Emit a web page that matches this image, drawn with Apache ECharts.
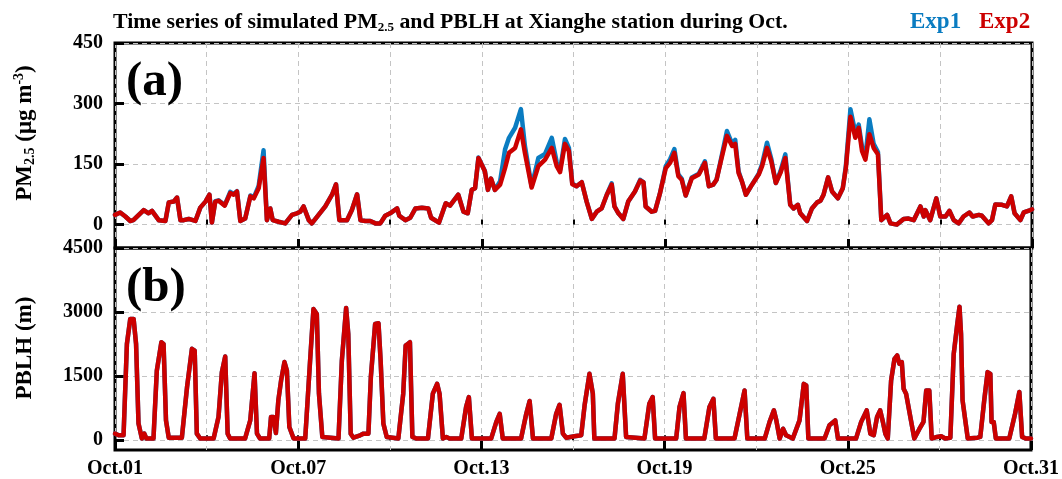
<!DOCTYPE html>
<html>
<head>
<meta charset="utf-8">
<script src="https://cdn.jsdelivr.net/npm/echarts@6/dist/echarts.min.js"></script>
<style>
  html, body { margin: 0; padding: 0; background: #fff; }
  #chart { width: 1062px; height: 479px; }
</style>
</head>
<body>
<div id="chart"></div>
<script>
// ---- PM2.5 (ug m-3): time in days since Oct.01 00:00 ----
const pmDays = [
  0, 0.17, 0.34, 0.5, 0.6, 0.94, 1.1, 1.21, 1.43, 1.65, 1.76, 1.92, 2.03, 2.14, 2.25, 2.41, 2.63, 2.79, 2.96, 3.09,
  3.17, 3.28, 3.39, 3.59, 3.77, 3.88, 3.99, 4.1, 4.26, 4.43, 4.54, 4.7, 4.86, 4.97, 5.08, 5.16, 5.35, 5.57, 5.79, 5.95,
  6.06, 6.17, 6.34, 6.44, 6.66, 6.88, 7.1, 7.23, 7.34, 7.59, 7.75, 7.92, 8.03, 8.19, 8.35, 8.52, 8.68, 8.84, 9.0, 9.23,
  9.3, 9.5, 9.66, 9.83, 10.04, 10.25, 10.34, 10.6, 10.82, 10.96, 11.23, 11.4, 11.54, 11.67, 11.78, 11.89, 12.1, 12.2, 12.3, 12.43,
  12.6, 12.76, 12.89, 13.09, 13.28, 13.41, 13.63, 13.85, 14.07, 14.29, 14.45, 14.56, 14.72, 14.85, 14.96, 15.1, 15.27, 15.43, 15.6, 15.76,
  15.92, 16.09, 16.25, 16.34, 16.47, 16.63, 16.79, 17.01, 17.18, 17.29, 17.36, 17.56, 17.67, 17.83, 18.02, 18.16, 18.3, 18.43, 18.54, 18.67,
  18.87, 19.1, 19.3, 19.43, 19.57, 19.68, 19.82, 20.02, 20.19, 20.29, 20.4, 20.51, 20.64, 20.84, 21.06, 21.17, 21.33, 21.47, 21.62, 21.77,
  21.93, 22.09, 22.2, 22.34, 22.42, 22.64, 22.8, 22.97, 23.08, 23.18, 23.33, 23.46, 23.65, 23.81, 23.91, 24.06, 24.22, 24.33, 24.44, 24.55,
  24.68, 24.82, 24.96, 25.07, 25.26, 25.37, 25.58, 25.8, 25.96, 26.13, 26.35, 26.46, 26.51, 26.67, 26.87, 27.0, 27.17, 27.3, 27.44, 27.6,
  27.76, 27.95, 28.06, 28.26, 28.36, 28.58, 28.69, 28.8, 29.02, 29.18, 29.32, 29.43, 29.62, 29.73, 29.95, 30
];
const pmExp1 = [
  24, 30, 20, 9, 11, 36, 28, 34, 11, 9, 55, 57, 67, 11, 11, 14, 9, 42, 57, 74,
  5, 58, 60, 48, 81, 76, 83, 9, 15, 72, 67, 96, 184, 11, 40, 11, 7, 3, 24, 28,
  32, 45, 11, 3, 24, 45, 74, 100, 11, 11, 36, 75, 11, 9, 9, 3, 3, 22, 28, 40,
  22, 11, 17, 40, 42, 40, 17, 5, 53, 47, 74, 32, 28, 86, 90, 166, 133, 86, 114, 86,
  108, 186, 215, 240, 286, 195, 95, 165, 175, 215, 155, 135, 212, 190, 102, 95, 105, 57, 14, 32,
  40, 74, 102, 45, 28, 14, 57, 82, 111, 105, 45, 32, 34, 78, 145, 162, 187, 124, 114, 72,
  117, 126, 157, 95, 99, 111, 160, 232, 200, 210, 132, 107, 74, 99, 126, 150, 203, 163, 103, 132,
  174, 49, 40, 49, 28, 9, 40, 55, 59, 74, 117, 82, 65, 90, 145, 286, 228, 248, 192, 168,
  261, 200, 180, 11, 24, 3, 0, 14, 15, 11, 45, 20, 36, 11, 65, 20, 20, 34, 11, 3,
  20, 30, 20, 24, 22, 3, 11, 50, 49, 45, 70, 28, 11, 30, 36, 38
];
const pmExp2 = [
  24, 30, 20, 9, 11, 36, 28, 34, 11, 9, 55, 57, 67, 11, 11, 14, 9, 42, 57, 74,
  5, 57, 59, 47, 78, 74, 82, 9, 15, 70, 65, 90, 165, 11, 40, 11, 7, 3, 24, 28,
  32, 45, 11, 3, 24, 45, 74, 100, 11, 11, 36, 75, 11, 9, 9, 3, 3, 22, 28, 40,
  22, 11, 17, 40, 42, 40, 17, 5, 53, 47, 74, 32, 28, 86, 90, 165, 132, 86, 114, 86,
  99, 140, 178, 190, 236, 178, 92, 145, 161, 190, 145, 130, 200, 182, 100, 95, 105, 57, 14, 32,
  40, 74, 99, 45, 28, 14, 57, 82, 109, 105, 45, 32, 34, 78, 140, 153, 178, 120, 111, 72,
  115, 124, 153, 95, 99, 111, 157, 220, 195, 200, 128, 107, 74, 99, 124, 145, 190, 157, 103, 128,
  165, 49, 40, 49, 28, 9, 40, 55, 59, 74, 117, 82, 65, 90, 140, 267, 215, 240, 182, 161,
  224, 190, 174, 11, 24, 3, 0, 14, 15, 11, 45, 20, 36, 11, 65, 20, 20, 34, 11, 3,
  20, 30, 20, 24, 22, 3, 11, 50, 49, 45, 70, 28, 11, 30, 36, 38
];

// ---- PBLH (m) ----
const pblhDays = [
  0, 0.12, 0.28, 0.39, 0.5, 0.61, 0.69, 0.77, 0.88, 0.96, 1.03, 1.26, 1.37, 1.52, 1.59, 1.67, 1.76, 2.19, 2.36, 2.52,
  2.61, 2.68, 2.79, 3.23, 3.39, 3.5, 3.61, 3.69, 3.77, 4.26, 4.43, 4.57, 4.65, 4.75, 5.05, 5.11, 5.19, 5.27, 5.35, 5.44,
  5.55, 5.63, 5.71, 5.85, 6.23, 6.39, 6.5, 6.61, 6.68, 6.79, 7.32, 7.43, 7.57, 7.64, 7.72, 7.81, 8.03, 8.14, 8.3, 8.38,
  8.52, 8.63, 8.7, 8.79, 8.9, 9.28, 9.44, 9.52, 9.59, 9.66, 9.74, 9.88, 10.25, 10.41, 10.55, 10.63, 10.74, 10.85, 10.96, 11.34,
  11.5, 11.59, 11.69, 12.32, 12.49, 12.6, 12.7, 13.3, 13.47, 13.58, 13.69, 14.29, 14.45, 14.56, 14.67, 14.78, 15.05, 15.27, 15.38, 15.54,
  15.65, 15.7, 16.36, 16.47, 16.63, 16.74, 17.34, 17.5, 17.61, 17.69, 18.38, 18.49, 18.62, 18.7, 19.3, 19.47, 19.6, 19.68, 20.29, 20.46,
  20.62, 20.71, 21.28, 21.44, 21.58, 21.66, 21.77, 21.88, 21.98, 22.2, 22.42, 22.56, 22.64, 22.71, 23.24, 23.4, 23.59, 23.68, 24.27, 24.44,
  24.62, 24.74, 24.85, 24.96, 25.06, 25.15, 25.23, 25.31, 25.42, 25.53, 25.62, 25.69, 25.77, 25.83, 25.91, 26.07, 26.18, 26.35, 26.48, 26.57,
  26.67, 26.75, 26.92, 27.06, 27.19, 27.36, 27.47, 27.58, 27.66, 27.71, 27.76, 27.82, 27.93, 28.25, 28.34, 28.47, 28.58, 28.67, 28.71, 28.78,
  28.85, 29.29, 29.48, 29.62, 29.71, 29.84, 30
];
const pblhExp2 = [
  155, 117, 117, 2255, 2840, 2840, 2255, 390, 40, 155, 40, 40, 1630, 2295, 2255, 465, 60, 60, 1245, 2140,
  2100, 155, 40, 40, 545, 1595, 1960, 155, 40, 40, 465, 1570, 155, 40, 40, 545, 545, 170, 935, 1400,
  1830, 1630, 310, 40, 40, 1865, 3070, 2955, 1090, 78, 40, 1865, 3095, 2490, 155, 60, 117, 155, 155, 1480,
  2720, 2740, 1865, 390, 78, 40, 1090, 2215, 2255, 2295, 78, 40, 40, 1090, 1320, 1090, 40, 78, 40, 40,
  780, 1010, 40, 40, 430, 620, 40, 40, 620, 920, 40, 40, 620, 830, 155, 60, 93, 117, 815, 1555,
  1090, 40, 40, 855, 1555, 78, 40, 855, 1010, 40, 40, 780, 1105, 40, 40, 780, 970, 40, 40, 620,
  1165, 40, 40, 430, 700, 465, 40, 270, 117, 40, 465, 1320, 1285, 40, 40, 350, 465, 40, 40, 430,
  700, 155, 117, 545, 700, 430, 155, 40, 1400, 1905, 1985, 1790, 1830, 1205, 1090, 465, 40, 270, 430, 1165,
  1165, 40, 78, 93, 40, 60, 2020, 2680, 3125, 2490, 935, 970, 40, 60, 78, 935, 1595, 1555, 430, 430,
  40, 40, 620, 1130, 78, 40, 40
];
// Exp1 boundary-layer height coincides with Exp2 throughout the month
const pblhExp1 = pblhExp2.slice();

// ---- axis ticks and labels ----
const dayLabels = ['Oct.01', 'Oct.07', 'Oct.13', 'Oct.19', 'Oct.25', 'Oct.31'];
const pmTicks = [0, 150, 300, 450];
const pblhTicks = [0, 1500, 3000, 4500];

const BLUE = '#0a7cc1';
const RED = '#cc0000';
const FONT = "'Liberation Serif', 'Times New Roman', serif";

const pairs = (xs, ys) => xs.map((x, i) => [x, ys[i]]);

const chart = echarts.init(document.getElementById('chart'), null, { renderer: 'canvas' });

const dashed = { show: true, lineStyle: { color: '#c4c4c4', width: 1, type: [5, 4] } };

function minorX(gridIndex) {
  return {
    type: 'value', gridIndex, position: 'bottom', min: 0, max: 30, interval: 3,
    axisLine: { show: false },
    axisTick: { show: true, inside: true, length: 5, lineStyle: { color: '#000', width: 2 } },
    axisLabel: { show: false },
    splitLine: dashed
  };
}
function majorX(gridIndex, withLabels) {
  return {
    type: 'value', gridIndex, position: 'bottom', min: 0, max: 30, interval: 6,
    axisLine: { show: false },
    axisTick: { show: true, inside: true, length: 9, lineStyle: { color: '#000', width: 3 } },
    axisLabel: {
      show: withLabels, margin: 9, color: '#000',
      fontFamily: FONT, fontWeight: 'bold', fontSize: 20,
      formatter: v => dayLabels[Math.round(v / 6)]
    },
    splitLine: { show: false }
  };
}
function yAxisFor(gridIndex, min, max, ticks) {
  return {
    type: 'value', gridIndex, min, max,
    axisLine: { show: false },
    axisTick: { show: true, inside: true, length: 9, customValues: ticks, lineStyle: { color: '#000', width: 3 } },
    axisLabel: {
      show: true, customValues: ticks, margin: 12, color: '#000',
      fontFamily: FONT, fontWeight: 'bold', fontSize: 20,
      formatter: v => String(v)
    },
    splitLine: dashed
  };
}

const lineSeries = (name, color, xi, yi, data, z) => ({
  name, type: 'line', xAxisIndex: xi, yAxisIndex: yi, data,
  showSymbol: false, symbol: 'none', z,
  lineStyle: { color, width: 4.5, join: 'round', cap: 'round' },
  emphasis: { disabled: true }
});

const option = {
  animation: false,
  backgroundColor: '#fff',
  grid: [
    { left: 115, right: 30, top: 43, height: 205, show: true, borderColor: '#000', borderWidth: 3, backgroundColor: 'transparent' },
    { left: 115, right: 30, top: 248, height: 203.5, show: true, borderColor: '#000', borderWidth: 3, backgroundColor: 'transparent' }
  ],
  xAxis: [minorX(0), majorX(0, false), minorX(1), majorX(1, true)],
  yAxis: [yAxisFor(0, -58, 450, pmTicks), yAxisFor(1, -228, 4500, pblhTicks)],
  series: [
    lineSeries('Exp1', BLUE, 0, 0, pairs(pmDays, pmExp1), 2),
    lineSeries('Exp2', RED, 0, 0, pairs(pmDays, pmExp2), 3),
    lineSeries('Exp1', BLUE, 2, 1, pairs(pblhDays, pblhExp1), 2),
    lineSeries('Exp2', RED, 2, 1, pairs(pblhDays, pblhExp2), 3)
  ],
  graphic: [
    {
      type: 'text', left: 113, top: 11, z: 10,
      style: {
        text: '{m|Time series of simulated PM}{s|2.5}{m| and PBLH at Xianghe station during Oct.}',
        rich: {
          m: { fontFamily: FONT, fontWeight: 'bold', fontSize: 21.8, lineHeight: 24, fill: '#000' },
          s: { fontFamily: FONT, fontWeight: 'bold', fontSize: 13, lineHeight: 4, verticalAlign: 'bottom', fill: '#000' }
        }
      }
    },
    {
      type: 'text', z: 10,
      style: { x: 910, y: 22, text: 'Exp1', fill: BLUE, font: "bold 23px 'Liberation Serif', serif", textAlign: 'left', textVerticalAlign: 'middle' }
    },
    {
      type: 'text', z: 10,
      style: { x: 979, y: 22, text: 'Exp2', fill: RED, font: "bold 23px 'Liberation Serif', serif", textAlign: 'left', textVerticalAlign: 'middle' }
    },
    {
      type: 'text', z: 10,
      style: { x: 126, y: 82, text: '(a)', fill: '#000', font: "bold 49px 'Liberation Serif', serif", textAlign: 'left', textVerticalAlign: 'middle' }
    },
    {
      type: 'text', z: 10,
      style: { x: 126, y: 288, text: '(b)', fill: '#000', font: "bold 49px 'Liberation Serif', serif", textAlign: 'left', textVerticalAlign: 'middle' }
    },
    {
      type: 'text', z: 10, x: 25, y: 133, rotation: Math.PI / 2,
      style: {
        text: '{m|PM}{s|2.5}{m| (μg m}{p|-3}{m|)}',
        align: 'center', verticalAlign: 'middle',
        rich: {
          m: { fontFamily: FONT, fontWeight: 'bold', fontSize: 23, lineHeight: 25, fill: '#000' },
          s: { fontFamily: FONT, fontWeight: 'bold', fontSize: 14, lineHeight: 4, verticalAlign: 'bottom', fill: '#000' },
          p: { fontFamily: FONT, fontWeight: 'bold', fontSize: 14, lineHeight: 6, verticalAlign: 'top', fill: '#000' }
        }
      }
    },
    {
      type: 'text', z: 10, x: 25, y: 348, rotation: Math.PI / 2,
      style: {
        text: 'PBLH (m)', align: 'center', verticalAlign: 'middle',
        font: "bold 23px 'Liberation Serif', serif", fill: '#000'
      }
    }
  ]
};

chart.setOption(option);
</script>
</body>
</html>
